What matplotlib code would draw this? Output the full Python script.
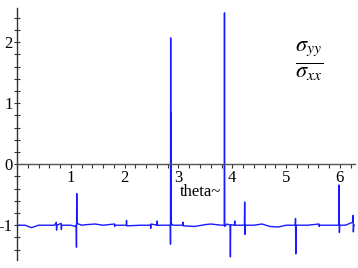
import numpy as np
import matplotlib
matplotlib.use("Agg")
import matplotlib.pyplot as plt
from matplotlib.ticker import MultipleLocator

theta = [0.0, 0.15, 0.27, 0.40, 0.70, 0.73, 0.735, 0.74, 0.82, 0.825, 0.83, 1.0,
         1.08, 1.100, 1.105, 1.110, 1.115, 1.20, 1.30, 1.45, 1.60, 1.81, 1.815, 1.82,
         2.03, 2.035, 2.04, 2.30, 2.48, 2.485, 2.49, 2.60, 2.605, 2.61, 2.80,
         2.850, 2.852, 2.855, 2.858, 2.861, 2.864, 2.90, 3.08, 3.085, 3.09, 3.30,
         3.50, 3.60, 3.80, 3.850, 3.855, 3.860, 3.90, 3.960, 3.965, 3.970, 4.040,
         4.045, 4.05, 4.20, 4.225, 4.230, 4.235, 4.240, 4.40, 4.55, 4.70, 4.85, 5.00,
         5.170, 5.175, 5.180, 5.185, 5.40, 5.61, 5.615, 5.62, 5.980, 5.985, 5.990,
         5.995, 6.10, 6.240, 6.245, 6.250, 6.255, 6.28]
ratio = [-1.00, -1.00, -1.04, -1.00, -1.00, -0.95, -1.08, -1.00, -0.97, -1.07, -1.00, -1.00,
         -1.02, -1.00, -1.36, -0.48, -0.97, -1.00, -0.99, -0.98, -1.00, -0.98, -1.02, -1.00,
         -1.00, -0.92, -1.01, -1.00, -1.00, -1.05, -0.98, -1.00, -0.93, -1.00, -1.00,
         -1.00, -1.31, 2.07, -1.00, 0.85, -0.97, -1.00, -1.00, -0.95, -1.01, -1.02,
         -0.99, -0.98, -1.00, -1.00, 2.48, -1.02, -0.98, -1.00, -1.52, -0.99, -1.00,
         -0.93, -1.00, -1.00, -1.00, -0.62, -1.15, -1.00, -1.00, -0.98, -1.02, -1.03, -1.00,
         -1.00, -0.89, -1.47, -1.00, -1.00, -0.98, -1.02, -1.00, -1.00, -0.34, -1.12,
         -1.00, -1.00, -0.95, -0.84, -1.11, -1.00, -1.00]

xticks = [1, 2, 3, 4, 5, 6]
yticks = [-1, 0, 1, 2]

plt.rcParams['font.family'] = ['Liberation Serif', 'DejaVu Serif']
plt.rcParams['mathtext.fontset'] = 'stix'
plt.rcParams['axes.unicode_minus'] = False

fig = plt.figure(figsize=(3.58, 2.68), dpi=100)
ax = fig.add_axes([17 / 358, 8 / 268, 338 / 358, 252 / 268])

ax.plot(theta, ratio, color='#1a1aff', lw=1.0)

ax.set_xlim(0, 6.28)
ax.set_ylim(-1.57, 2.56)

ax.spines['top'].set_visible(False)
ax.spines['right'].set_visible(False)
ax.spines['bottom'].set_position(('data', 0))
ax.spines['left'].set_color('#333333')
ax.spines['bottom'].set_color('#555555')
ax.spines['left'].set_linewidth(1.0)
ax.spines['bottom'].set_linewidth(1.0)

ax.set_xticks(xticks)
ax.set_yticks(yticks)
ax.set_yticklabels([str(v) for v in yticks])
ax.xaxis.set_minor_locator(MultipleLocator(0.2))
ax.yaxis.set_minor_locator(MultipleLocator(0.2))
ax.tick_params(axis='both', which='both', direction='out', length=3, width=0.8,
               color='#333333', labelsize=12, pad=1)
ax.tick_params(axis='y', which='both', direction='inout', length=4)

ax.text(3.03, -0.46, 'theta~', fontsize=12, ha='left', va='center')
ax.text(5.43, 1.68, r'$\frac{\sigma_{yy}}{\sigma_{xx}}$', fontsize=23,
        ha='center', va='center')

fig.savefig('out.png', dpi=100)
